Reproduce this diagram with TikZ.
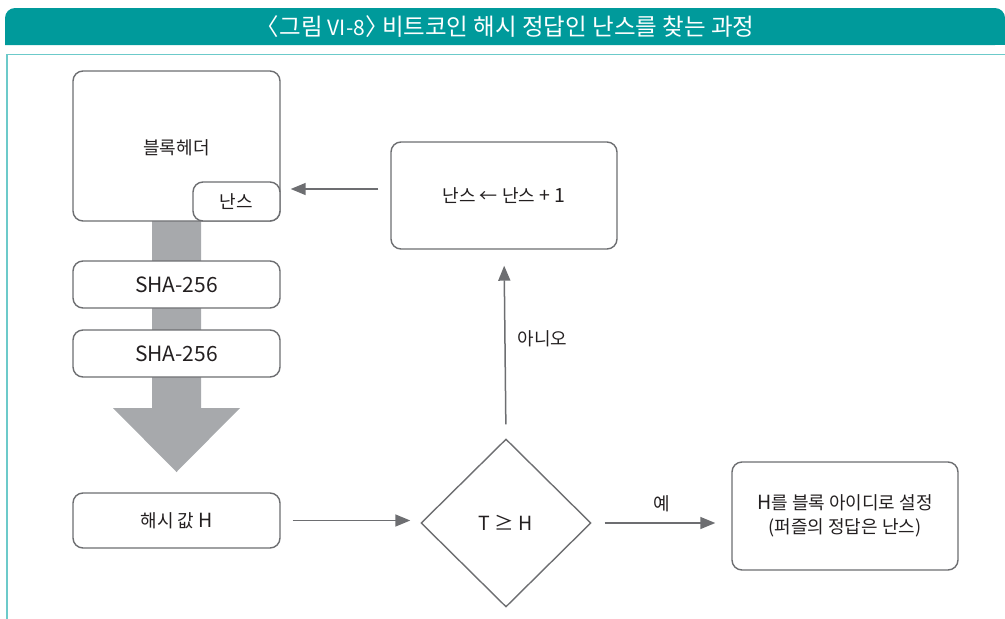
\documentclass[tikz,border=0pt]{standalone}
\usepackage{fontspec}
\setmainfont{Noto Sans CJK KR}
\usetikzlibrary{shapes.geometric,arrows.meta,calc}
\definecolor{teal1}{HTML}{009A9B}
\definecolor{teal2}{HTML}{6CCACA}
\definecolor{shaft}{HTML}{A7A9AC}
\definecolor{lgray}{HTML}{6D6E71}
\definecolor{ink}{HTML}{231F20}
\newcommand\latn[1]{{\fontsize{21}{24}\selectfont #1}}
\newcommand\latm[1]{{\fontsize{19.5}{24}\selectfont #1}}
\tikzset{
  box/.style={draw=lgray,line width=1.4pt,rounded corners=10pt,fill=white,
    inner sep=0pt,align=center,text=ink,font=\fontsize{18}{24}\selectfont},
  lab/.style={text=ink,font=\fontsize{18}{24}\selectfont,inner sep=0pt},
  conn/.style={draw=lgray,line width=1.5pt,-{Triangle[length=15pt,width=12pt]}},
}
\begin{document}
\begin{tikzpicture}[x=1pt,y=-1pt]
\useasboundingbox (0,0) rectangle (1005,619);
% header
\fill[teal1,rounded corners=10pt] (5,45) -- (5,8) -- (1005,8) -- (1005,45) [sharp corners] -- cycle;
\fill[teal1] (5,30) rectangle (1005,45);
\node[text=white,font=\fontsize{23.5}{26}\selectfont,inner sep=0pt] (title) at (511,27) {\hspace{-0.5em}〈그림 \latn{VI-8}〉\hspace{-0.5em} 비트코인 해시 정답인 난스를 찾는 과정};
% frame
\draw[teal2,line width=1.2pt] (7,619) -- (7,54.5) -- (1005,54.5);
% gray shaft arrow
\fill[shaft] (152,221) -- (201,221) -- (201,408) -- (240,408) -- (176.5,472) -- (113,408) -- (152,408) -- cycle;
% nodes
\node[box,minimum width=207pt,minimum height=150pt] (hdr) at (176.5,146) {};
\node[lab] (hdrt) at (176.5,148) {블록헤더};
\node[box,minimum width=87pt,minimum height=39pt] (nonce) at (236.5,201.5) {난스};
\node[box,minimum width=207pt,minimum height=47pt] (sha1) at (176.5,284.5) {\latn{SHA-256}};
\node[box,minimum width=207pt,minimum height=47pt] (sha2) at (176.5,353.5) {\latn{SHA-256}};
\node[box,minimum width=207pt,minimum height=55pt] (hash) at (176.5,520.5) {해시 값 \latm{H}};
\node[draw=lgray,line width=1.4pt,diamond,aspect=1.012,minimum width=170pt,minimum height=168pt,inner sep=0pt,text=ink,font=\fontsize{18}{24}\selectfont] (cmp) at (506,523) {\latm{T ≥ H}};
\node[box,minimum width=226pt,minimum height=108pt] (res) at (845,516) {\latm{H}를 블록 아이디로 설정\\(퍼즐의 정답은 난스)};
\node[box,minimum width=226pt,minimum height=107pt] (inc) at (504,195.5) {난스 ← 난스 \latm{+ 1}};
% connectors
\draw[conn,shorten <=12pt,shorten >=10pt] (hash.east) -- (hash.east -| cmp.west);
\draw[conn,shorten <=13pt,shorten >=16pt] (cmp.east) -- (cmp.east -| res.west) node[lab,midway,above=10pt] (yes) {예};
\draw[conn,shorten <=14pt,shorten >=16pt] (cmp.north) -- (inc.south) node[lab,pos=0.53,right=12pt] (no) {아니오};
\draw[conn,shorten <=12pt,shorten >=10pt] ([yshift=6.5pt]inc.west) -- ([yshift=6.5pt]inc.west -| hdr.east);
\end{tikzpicture}
\end{document}
